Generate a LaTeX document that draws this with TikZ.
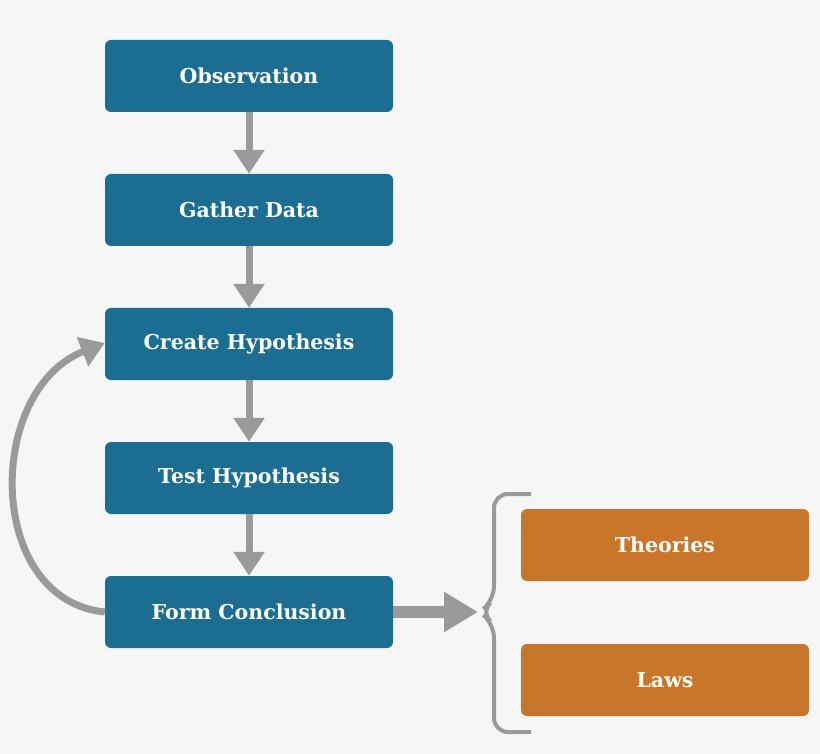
\documentclass[tikz,border=0pt]{standalone}
\usepackage{fontspec}
\setmainfont{DejaVu Serif}
\usetikzlibrary{positioning,arrows.meta}
\definecolor{stepblue}{HTML}{1B6D91}
\definecolor{resorange}{HTML}{C8762A}
\definecolor{flowgray}{HTML}{9A9A9A}
\definecolor{paper}{HTML}{F6F6F6}

\begin{document}
\begin{tikzpicture}[x=1pt,y=-1pt]
		\tikzstyle{box}=[rectangle,rounded corners=6pt,minimum width=288pt,minimum height=72pt,inner sep=0pt,text=white,font=\fontsize{20.5}{24}\selectfont\bfseries]
		\tikzstyle{stage}=[box,fill=stepblue]
		\tikzstyle{result}=[box,fill=resorange]
		\tikzstyle{flow}=[draw=flowgray,line width=7pt,-{Triangle[length=24pt,width=30pt]}]

			% background
		\fill[paper] (0,0) rectangle (820,754);
		\useasboundingbox (0,0) rectangle (820,754);

			% the stages
		\foreach \name / \y / \txt in {O/76/Observation,G/210/Gather Data,C/344/Create Hypothesis,T/478/Test Hypothesis,F/612/Form Conclusion}
		\node[stage] (S-\name) at (249,\y) {\txt};

			% the results
		\node[result] (R-1) at (665,545) {Theories};
		\node[result] (R-2) at (665,680) {Laws};

			% arrows between stages
		\foreach \source / \dest in {O/G,G/C,C/T,T/F}
		\draw[flow] (S-\source) -- (S-\dest);

			% loop back
		\draw[flow] (S-F.west) .. controls (-15,600) and (-15,390) .. ([yshift=1pt]S-C.west);

			% brace
		\coordinate (tip) at (478,612);
		\draw[flow,line width=12pt,-{Triangle[length=34pt,width=38pt]}] (S-F.east) -- (tip);
		\draw[flowgray,line width=4pt,rounded corners=14pt] (531,494) -- (494,494) -- (494,600) -- (480,612) -- (494,624) -- (494,732) -- (531,732);
		\end{tikzpicture}
\end{document}
